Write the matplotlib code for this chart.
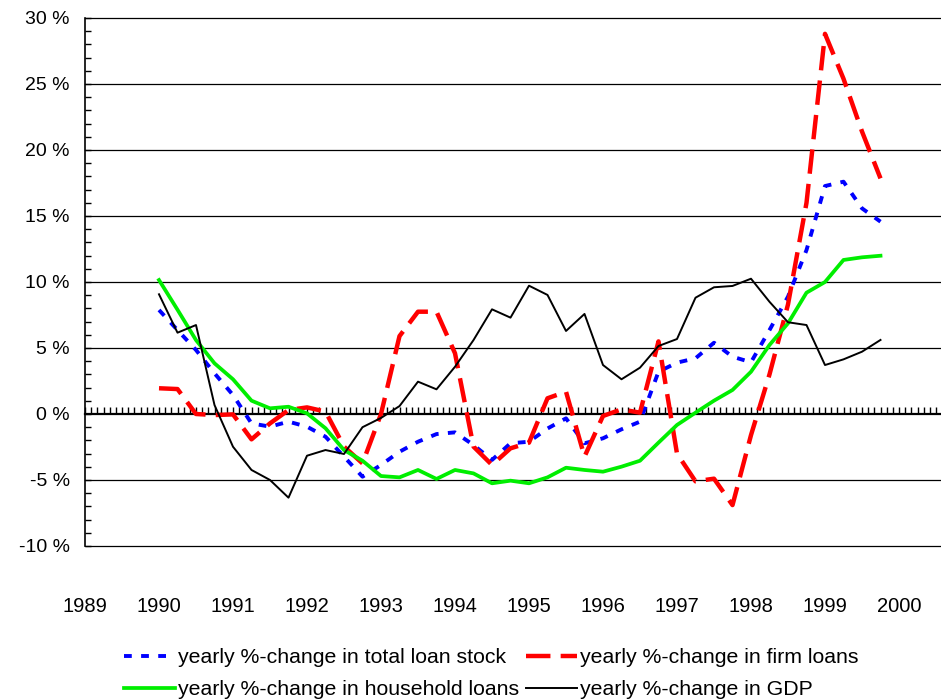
import matplotlib.pyplot as plt
import numpy as np
from matplotlib.ticker import MultipleLocator, FuncFormatter

plt.rcParams['font.family'] = ['Liberation Sans', 'DejaVu Sans']

# quarterly observations, 1990Q1 .. 1999Q4
quarters = 1990 + np.arange(40) / 4

total_loans = [7.88, 6.36, 4.85, 3.08, 1.44, -0.71, -0.96, -0.58, -0.96, -1.72,
               -3.23, -4.75, -3.86, -2.86, -2.10, -1.52, -1.39, -2.35, -3.48, -2.22,
               -2.10, -1.10, -0.33, -2.22, -1.84, -1.16, -0.58, 3.20, 3.89, 4.22,
               5.40, 4.34, 3.92, 6.36, 8.89, 12.42, 17.27, 17.60, 15.58, 14.57]
firm_loans = [1.95, 1.89, 0.00, -0.08, -0.03, -1.92, -0.71, 0.30, 0.50, 0.18,
              -2.47, -3.74, 0.00, 5.90, 7.75, 7.75, 4.60, -2.47, -3.86, -2.60,
              -2.17, 1.19, 1.69, -3.23, -0.15, 0.35, 0.10, 5.50, -3.00, -5.10,
              -4.90, -6.90, -1.60, 3.00, 8.30, 16.00, 28.80, 25.40, 21.40, 17.85]
household_loans = [10.15, 7.90, 5.60, 3.84, 2.63, 1.01, 0.43, 0.55, 0.05, -1.08,
                   -2.73, -3.54, -4.70, -4.80, -4.24, -4.92, -4.24, -4.50, -5.25, -5.05,
                   -5.25, -4.80, -4.07, -4.24, -4.37, -3.99, -3.54, -2.17, -0.83, 0.10,
                   1.01, 1.82, 3.20, 5.23, 6.87, 9.19, 10.00, 11.67, 11.87, 11.99]
gdp = [9.07, 6.16, 6.74, 0.68, -2.48, -4.24, -5.00, -6.34, -3.16, -2.73,
       -3.03, -1.00, -0.30, 0.60, 2.45, 1.87, 3.58, 5.60, 7.93, 7.30,
       9.72, 9.02, 6.29, 7.58, 3.71, 2.63, 3.51, 5.15, 5.68, 8.81,
       9.60, 9.70, 10.25, 8.50, 6.95, 6.74, 3.71, 4.14, 4.72, 5.61]

years = list(range(1989, 2001))

fig = plt.figure(figsize=(9.41, 6.99), dpi=100)
ax = fig.add_axes([85 / 941, 1 - 546 / 699, 856 / 941, 528 / 699])

l_total, = ax.plot(quarters, total_loans, color='#0000ff', lw=2.8, dashes=(2.0, 2.4),
                   label='yearly %-change in total loan stock')
l_firm, = ax.plot(quarters, firm_loans, color='#ff0000', lw=3.2, dashes=(5.5, 2.3),
                  label='yearly %-change in firm loans')
l_house, = ax.plot(quarters, household_loans, color='#00ee00', lw=2.7,
                   label='yearly %-change in household loans')
l_gdp, = ax.plot(quarters, gdp, color='black', lw=1.4,
                 label='yearly %-change in GDP')

ax.set_xlim(1989, 1989 + 856 / 74)
ax.set_ylim(-10, 30)

# horizontal grid every 5 %
for v in range(-10, 31, 5):
    if v != 0:
        ax.axhline(v, color='black', lw=0.9, zorder=0, clip_on=False)

for s in ['top', 'right', 'bottom']:
    ax.spines[s].set_visible(False)
ax.spines['left'].set_linewidth(1.2)

ax.yaxis.set_major_locator(MultipleLocator(5))
ax.yaxis.set_minor_locator(MultipleLocator(1))
ax.yaxis.set_major_formatter(FuncFormatter(lambda v, p: f'{v:.0f} %'))
ax.tick_params(axis='y', which='both', direction='in', length=4, width=1, pad=11,
               labelsize=14)

ax.set_xticks(years)
ax.set_xticklabels([str(y) for y in years])
ax.tick_params(axis='x', which='both', length=0, pad=37, labelsize=14.5)

# zero line with monthly tick marks
zero = ax.secondary_xaxis(0.25)
zero.spines['bottom'].set_linewidth(1.6)
zero.set_xticks(years)
zero.xaxis.set_minor_locator(MultipleLocator(1 / 12))
zero.tick_params(which='both', direction='in', length=5, width=1, labelbottom=False)

fig.legend(handles=[l_total, l_house, l_firm, l_gdp], ncol=2, frameon=False,
           loc='upper left', bbox_to_anchor=(124 / 941, 1 - 648 / 699),
           fontsize=15.3, handlelength=2.4, handletextpad=0.12, columnspacing=0.35,
           labelspacing=0.62, borderpad=0, borderaxespad=0)

fig.savefig('out.png', dpi=100)
